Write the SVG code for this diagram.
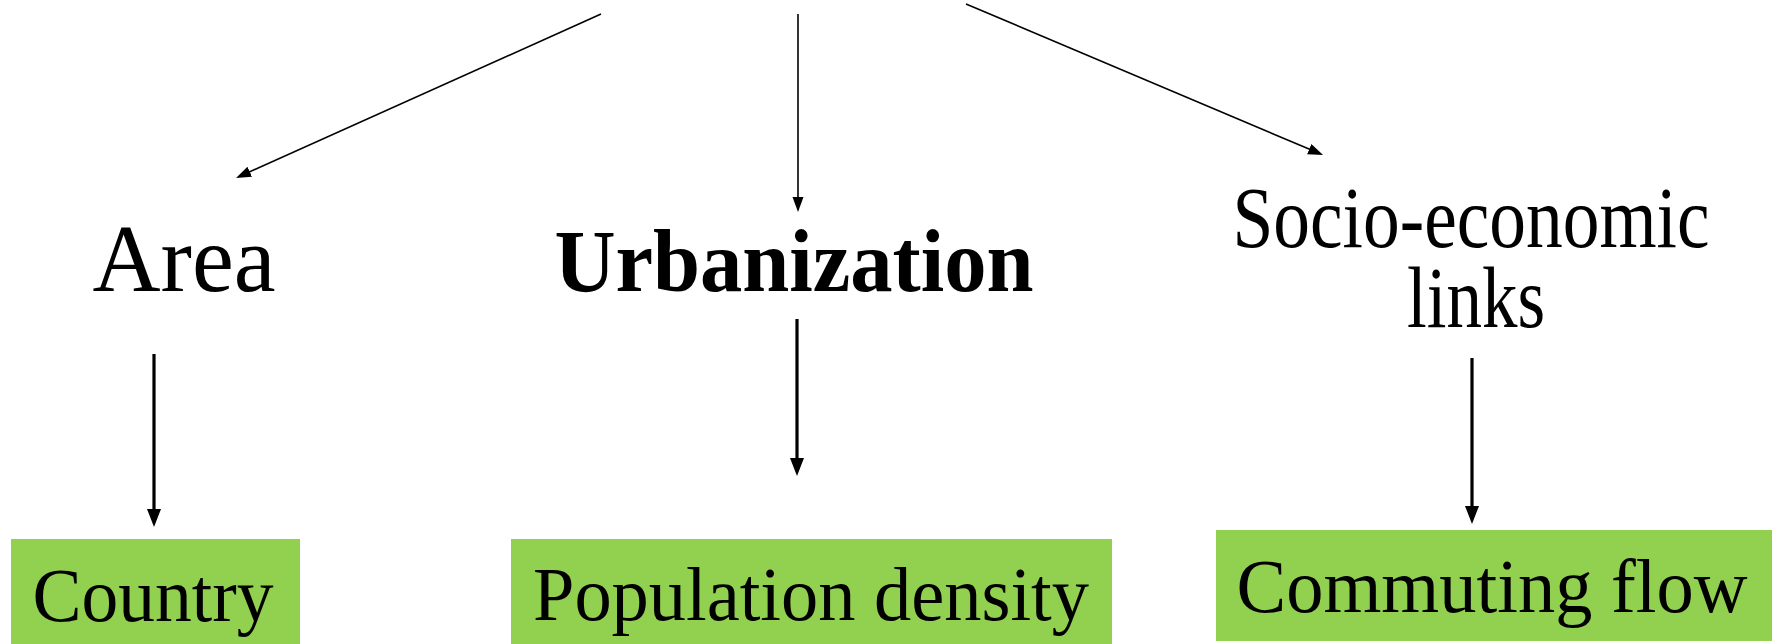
<svg xmlns="http://www.w3.org/2000/svg" width="1778" height="644" viewBox="0 0 1778 644">
<style>
text{font-family:"Liberation Serif","Times New Roman",serif;fill:#000;text-anchor:middle}
.box{fill:#92D050}
.thin{stroke:#000;stroke-width:1.6;fill:none;marker-end:url(#ah)}
.thick{stroke:#000;stroke-width:3.2;fill:none;marker-end:url(#ahb)}
</style>
<defs>
<marker id="ah" markerUnits="userSpaceOnUse" markerWidth="16" markerHeight="12" refX="3" refY="5.5" orient="auto"><path d="M0,0 L15,5.5 L0,11 z" fill="#000"/></marker>
<marker id="ahb" markerUnits="userSpaceOnUse" markerWidth="19" markerHeight="15" refX="4" refY="7" orient="auto"><path d="M0,0 L18,7 L0,14 z" fill="#000"/></marker>
</defs>
<g id="connectors">
<line class="thin" x1="601" y1="14" x2="247" y2="173"/>
<line class="thin" x1="798" y1="14" x2="798" y2="200"/>
<line class="thin" x1="966" y1="4" x2="1312" y2="150.3"/>
<line class="thick" x1="154" y1="354" x2="154" y2="513"/>
<line class="thick" x1="797" y1="319" x2="797" y2="462"/>
<line class="thick" x1="1472" y1="358" x2="1472" y2="510"/>
</g>
<g id="area"><text x="184" y="291" font-size="96" textLength="183" lengthAdjust="spacingAndGlyphs">Area</text></g>
<g id="urbanization"><text x="794" y="291" font-size="88" font-weight="bold" textLength="479" lengthAdjust="spacingAndGlyphs">Urbanization</text></g>
<g id="socio"><text x="1471" y="247" font-size="86" textLength="477" lengthAdjust="spacingAndGlyphs">Socio-economic</text><text x="1476" y="327" font-size="86" textLength="138" lengthAdjust="spacingAndGlyphs">links</text></g>
<g id="country"><rect class="box" x="11" y="539" width="289" height="105"/><text x="153" y="621" font-size="77" textLength="241" lengthAdjust="spacingAndGlyphs">Country</text></g>
<g id="popdensity"><rect class="box" x="511" y="539" width="601" height="105"/><text x="811" y="620" font-size="77" textLength="556" lengthAdjust="spacingAndGlyphs">Population density</text></g>
<g id="commuting"><rect class="box" x="1216" y="530" width="556" height="111"/><text x="1492" y="612" font-size="77" textLength="511" lengthAdjust="spacingAndGlyphs">Commuting flow</text></g>
</svg>
